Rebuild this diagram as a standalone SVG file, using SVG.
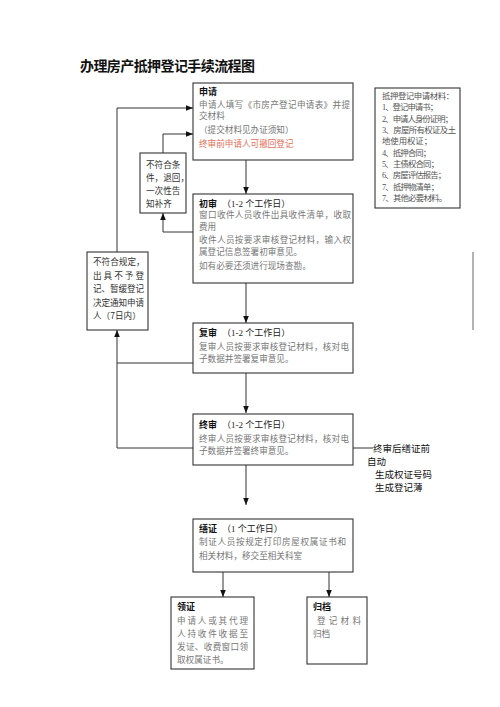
<svg xmlns="http://www.w3.org/2000/svg" width="500" height="707" viewBox="0 0 500 707">
<defs>
<marker id="ah" viewBox="0 0 10 10" refX="10" refY="5" markerWidth="7" markerHeight="7" orient="auto" markerUnits="userSpaceOnUse">
<path d="M0,1 L10,5 L0,9 z" fill="#111"/>
</marker>
<style>
.box{fill:#fff;stroke:#333;stroke-width:1.1}
.ln{fill:none;stroke:#333;stroke-width:1}
.title{font-family:"Liberation Serif","Noto Sans CJK SC",serif;font-size:14px;font-weight:bold;fill:#111}
.hd{font-family:"Noto Sans CJK SC",sans-serif;font-size:9px;font-weight:bold;fill:#111}
.hs{font-family:"Liberation Serif","Noto Sans CJK SC",serif;font-size:9px;fill:#222}
.bd{font-family:"Liberation Serif","Noto Sans CJK SC",serif;font-size:8.6px;fill:#777}
.red{fill:#e8705a}
.sm{font-family:"Noto Sans CJK SC",sans-serif;font-size:8.6px;fill:#333}
.mt{font-family:"Liberation Serif","Noto Sans CJK SC",serif;font-size:8.4px;fill:#555}
.rt{font-family:"Noto Sans CJK SC",sans-serif;font-size:9.5px;fill:#111}
</style>
</defs>
<rect width="500" height="707" fill="#fff"/>
<text class="title" x="80" y="71" textLength="175">办理房产抵押登记手续流程图</text>

<g id="connectors">
<line class="ln" x1="246" y1="160" x2="246" y2="194" marker-end="url(#ah)"/>
<line class="ln" x1="246" y1="283" x2="246" y2="323" marker-end="url(#ah)"/>
<line class="ln" x1="246" y1="373" x2="246" y2="413" marker-end="url(#ah)"/>
<line class="ln" x1="246" y1="465" x2="246" y2="505" marker-end="url(#ah)"/>
<line class="ln" x1="223" y1="572" x2="223" y2="597" marker-end="url(#ah)"/>
<line class="ln" x1="329" y1="572" x2="329" y2="597" marker-end="url(#ah)"/>
<path class="ln" d="M193,232 H163 V213" marker-end="url(#ah)"/>
<path class="ln" d="M163,153 V134 H193" marker-end="url(#ah)"/>
<line class="ln" x1="193" y1="363" x2="117" y2="363"/>
<path class="ln" d="M193,448 H117 V330" marker-end="url(#ah)"/>
<path class="ln" d="M117,252 V108 H193" marker-end="url(#ah)"/>
<line class="ln" x1="353" y1="448" x2="373" y2="448"/>
<line x1="473" y1="252" x2="473" y2="330" stroke="#666" stroke-width="1"/>
</g>

<g id="apply">
<rect class="box" x="193" y="83" width="160" height="77"/>
<text class="hd" x="199" y="95">申请</text>
<text class="bd" x="199" y="108" textLength="151">申请人填写《市房产登记申请表》并提</text>
<text class="bd" x="199" y="119">交材料</text>
<text class="bd" x="199" y="133">（提交材料见办证须知）</text>
<text class="bd red" x="199" y="147">终审前申请人可撤回登记</text>
</g>

<g id="materials">
<rect class="box" x="375" y="88" width="85" height="120"/>
<text class="mt" x="382" y="99" textLength="72">抵押登记申请材料：</text>
<text class="mt" x="382" y="110" textLength="56">1、登记申请书；</text>
<text class="mt" x="382" y="122" textLength="71">2、申请人身份证明；</text>
<text class="mt" x="382" y="133" textLength="74">3、房屋所有权证及土</text>
<text class="mt" x="382" y="144" textLength="50">地使用权证；</text>
<text class="mt" x="382" y="156" textLength="49">4、抵押合同；</text>
<text class="mt" x="382" y="167" textLength="57">5、主债权合同；</text>
<text class="mt" x="382" y="178" textLength="64">6、房屋评估报告；</text>
<text class="mt" x="382" y="190" textLength="57">7、抵押物清单；</text>
<text class="mt" x="382" y="201" textLength="65">7、其他必要材料。</text>
</g>

<g id="reject1">
<rect class="box" x="140" y="153" width="46" height="60"/>
<text class="sm" x="146" y="168">不符合条</text>
<text class="sm" x="146" y="181">件，退回，</text>
<text class="sm" x="146" y="194">一次性告</text>
<text class="sm" x="146" y="207">知补齐</text>
</g>

<g id="reject2">
<rect class="box" x="87" y="252" width="61" height="78"/>
<text class="sm" x="93" y="265">不符合规定，</text>
<text class="sm" x="93" y="279" textLength="51">出具不予登</text>
<text class="sm" x="93" y="292" textLength="51">记、暂缓登记</text>
<text class="sm" x="93" y="306" textLength="51">决定通知申请</text>
<text class="sm" x="93" y="319">人（7日内）</text>
</g>

<g id="first">
<rect class="box" x="193" y="194" width="160" height="89"/>
<text x="199" y="207"><tspan class="hd">初审</tspan><tspan class="hs" dx="5">（1-2 个工作日）</tspan></text>
<text class="bd" x="199" y="218" textLength="152">窗口收件人员收件出具收件清单，收取</text>
<text class="bd" x="199" y="230">费用</text>
<text class="bd" x="199" y="243" textLength="152">收件人员按要求审核登记材料，输入权</text>
<text class="bd" x="199" y="255">属登记信息签署初审意见。</text>
<text class="bd" x="199" y="269">如有必要还须进行现场查勘。</text>
</g>

<g id="second">
<rect class="box" x="193" y="323" width="160" height="50"/>
<text x="199" y="336"><tspan class="hd">复审</tspan><tspan class="hs" dx="5">（1-2 个工作日）</tspan></text>
<text class="bd" x="199" y="350" textLength="150">复审人员按要求审核登记材料，核对电</text>
<text class="bd" x="199" y="362">子数据并签署复审意见。</text>
</g>

<g id="final">
<rect class="box" x="193" y="414" width="160" height="51"/>
<text x="199" y="428"><tspan class="hd">终审</tspan><tspan class="hs" dx="5">（1-2 个工作日）</tspan></text>
<text class="bd" x="199" y="442" textLength="150">终审人员按要求审核登记材料，核对电</text>
<text class="bd" x="199" y="454">子数据并签署终审意见。</text>
</g>

<g id="auto-note">
<text class="rt" x="373" y="452">终审后缮证前</text>
<text class="rt" x="367" y="465">自动</text>
<text class="rt" x="375" y="478">生成权证号码</text>
<text class="rt" x="375" y="491">生成登记薄</text>
</g>

<g id="make">
<rect class="box" x="193" y="519" width="160" height="53"/>
<text x="199" y="532"><tspan class="hd">缮证</tspan><tspan class="hs" dx="5">（1 个工作日）</tspan></text>
<text class="bd" x="199" y="545" textLength="147">制证人员按规定打印房屋权属证书和</text>
<text class="bd" x="199" y="559">相关材料，移交至相关科室</text>
</g>

<g id="collect">
<rect class="box" x="171" y="597" width="83" height="72"/>
<text class="hd" x="177" y="610">领证</text>
<text class="bd" x="177" y="624" textLength="71">申请人或其代理</text>
<text class="bd" x="177" y="637" textLength="71">人持收件收据至</text>
<text class="bd" x="177" y="650" textLength="71">发证、收费窗口领</text>
<text class="bd" x="177" y="663">取权属证书。</text>
</g>

<g id="archive">
<rect class="box" x="307" y="597" width="60" height="67"/>
<text class="hd" x="313" y="610">归档</text>
<text class="bd" x="317" y="624" textLength="44">登记材料</text>
<text class="bd" x="313" y="637">归档</text>
</g>
</svg>
